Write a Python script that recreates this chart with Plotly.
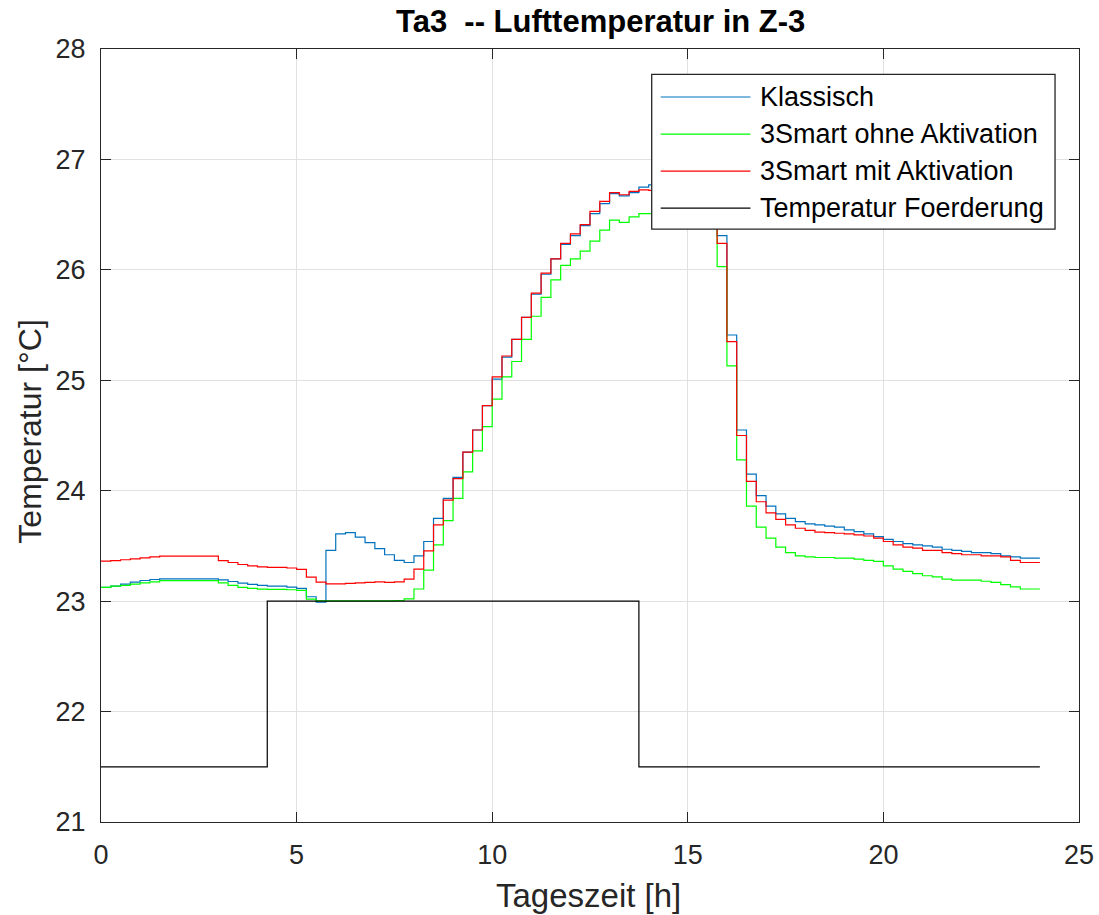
import plotly.graph_objects as go

# ---------------- data (15-min steps, 0..24 h) ----------------
step_h = 0.25

klassisch = [
    23.124, 23.136, 23.154, 23.172, 23.187, 23.196, 23.202, 23.202, 23.202, 23.202,
    23.202, 23.202, 23.193, 23.178, 23.163, 23.151, 23.142, 23.136, 23.136, 23.127,
    23.115, 23.04, 22.99, 23.46, 23.61, 23.62, 23.58, 23.53, 23.475, 23.42,
    23.37, 23.35, 23.41, 23.54, 23.75, 23.93, 24.12, 24.35, 24.55, 24.77,
    25.01, 25.21, 25.37, 25.57, 25.78, 25.96, 26.10, 26.23, 26.31, 26.40,
    26.51, 26.60, 26.69, 26.67, 26.70, 26.75, 26.77, 26.80, 26.82, 26.84,
    26.85, 26.85, 26.84, 26.31, 25.41, 24.55, 24.15, 23.955, 23.86, 23.79,
    23.75, 23.72, 23.70, 23.69, 23.68, 23.67, 23.645, 23.63, 23.61, 23.585,
    23.56, 23.54, 23.52, 23.51, 23.50, 23.49, 23.47, 23.46, 23.45, 23.44,
    23.44, 23.43, 23.41, 23.40, 23.39, 23.39,
]

ohne_aktivation = [
    23.124, 23.136, 23.142, 23.154, 23.166, 23.175, 23.186, 23.186, 23.186, 23.186,
    23.186, 23.186, 23.166, 23.142, 23.124, 23.115, 23.109, 23.106, 23.106, 23.103,
    23.097, 23.018, 23.003, 23.003, 23.003, 23.003, 23.003, 23.003, 23.003, 23.003,
    23.006, 23.02, 23.11, 23.28, 23.51, 23.73, 23.93, 24.17, 24.36, 24.58,
    24.83, 25.03, 25.17, 25.37, 25.58, 25.75, 25.91, 26.04, 26.10, 26.17,
    26.26, 26.36, 26.45, 26.43, 26.48, 26.51, 26.51, 26.53, 26.55, 26.56,
    26.57, 26.57, 26.56, 26.03, 25.13, 24.28, 23.86, 23.67, 23.57, 23.49,
    23.44, 23.41, 23.40, 23.395, 23.395, 23.39, 23.39, 23.38, 23.37, 23.36,
    23.32, 23.29, 23.27, 23.25, 23.23, 23.22, 23.20, 23.19, 23.19, 23.19,
    23.18, 23.17, 23.15, 23.13, 23.11, 23.11,
]

mit_aktivation = [
    23.362, 23.367, 23.375, 23.383, 23.392, 23.40, 23.407, 23.407, 23.407, 23.407,
    23.407, 23.407, 23.367, 23.35, 23.332, 23.32, 23.31, 23.305, 23.305, 23.30,
    23.287, 23.217, 23.172, 23.157, 23.157, 23.16, 23.165, 23.17, 23.175, 23.17,
    23.175, 23.20, 23.29, 23.455, 23.69, 23.915, 24.11, 24.35, 24.55, 24.77,
    25.03, 25.22, 25.37, 25.57, 25.79, 25.97, 26.10, 26.24, 26.325, 26.41,
    26.53, 26.62, 26.70, 26.68, 26.71, 26.725, 26.72, 26.74, 26.76, 26.77,
    26.78, 26.78, 26.77, 26.24, 25.35, 24.50, 24.085, 23.90, 23.80, 23.74,
    23.69, 23.66, 23.64, 23.625, 23.62, 23.615, 23.61, 23.60, 23.59, 23.57,
    23.54, 23.51, 23.49, 23.48, 23.46, 23.46, 23.44, 23.43, 23.42, 23.42,
    23.41, 23.41, 23.40, 23.37, 23.35, 23.35,
]

# set-point (Temperatur Foerderung): change times [h] and levels
soll_t = [0, 4.25, 13.75, 24]
soll_v = [21.5, 23.0, 21.5, 21.5]

series_names = ["Klassisch", "3Smart ohne Aktivation", "3Smart mit Aktivation", "Temperatur Foerderung"]
series_colors = ["#0072BD", "#00FF00", "#FF0000", "#000000"]

x_ticks = [0, 5, 10, 15, 20, 25]
y_ticks = [21, 22, 23, 24, 25, 26, 27, 28]

# ---------------- figure ----------------
def stairs(vals):
    t = [i * step_h for i in range(len(vals) + 1)]
    return t, list(vals) + [vals[-1]]

fig = go.Figure()
for name, vals, col in zip(series_names[:3], [klassisch, ohne_aktivation, mit_aktivation], series_colors[:3]):
    t, v = stairs(vals)
    fig.add_trace(go.Scatter(x=t, y=v, mode="lines", name=name,
                             line=dict(color=col, width=1.2, shape="hv")))
fig.add_trace(go.Scatter(x=soll_t, y=soll_v, mode="lines", name=series_names[3],
                         line=dict(color=series_colors[3], width=1.2, shape="hv")))

FONT = "Liberation Sans, Arial, Helvetica, sans-serif"
AX = "#262626"
axis_common = dict(
    showline=True, linecolor=AX, linewidth=1.3, mirror="ticks",
    ticks="inside", ticklen=10, tickwidth=1.3, tickcolor=AX,
    showgrid=True, gridcolor="#e1e1e1", gridwidth=1, zeroline=False,
    tickfont=dict(family=FONT, size=27, color=AX), automargin=False,
)
fig.update_xaxes(range=[0, 25], tickvals=x_ticks, ticklabelstandoff=8, **axis_common)
fig.update_yaxes(range=[21, 28], tickvals=y_ticks, ticklabelstandoff=9, **axis_common)

# ---- custom MATLAB-style legend box ----
L_x0, L_x1, L_y0, L_y1 = 0.5631, 0.9755, 0.7671, 0.9673
row_top = 0.9379
row_gap = 0.0479
shapes = [dict(type="rect", xref="paper", yref="paper", x0=L_x0, x1=L_x1, y0=L_y0, y1=L_y1,
               line=dict(color=AX, width=1.3), fillcolor="white", layer="above")]
annotations = []
for i, (name, col) in enumerate(zip(series_names, series_colors)):
    yy = row_top - i * row_gap
    shapes.append(dict(type="line", xref="paper", yref="paper", x0=0.5723, x1=0.6641,
                       y0=yy, y1=yy, line=dict(color=col, width=1.2), layer="above"))
    annotations.append(dict(xref="paper", yref="paper", x=0.6718, y=yy, xanchor="left",
                            yanchor="middle", text=name, showarrow=False,
                            font=dict(family=FONT, size=27, color="#000000")))

# title and axis labels
annotations.append(dict(xref="paper", yref="paper", x=0.5103, y=1.035, xanchor="center", yanchor="middle",
                        text="<b>Ta3  -- Lufttemperatur in Z-3</b>", showarrow=False,
                        font=dict(family=FONT, size=31, color="#000000")))
annotations.append(dict(xref="paper", yref="paper", x=0.4985, y=-0.0957, xanchor="center", yanchor="middle",
                        text="Tageszeit [h]", showarrow=False,
                        font=dict(family=FONT, size=33, color=AX)))
annotations.append(dict(xref="paper", yref="paper", x=-0.0726, y=0.505, xanchor="center", yanchor="middle",
                        text="Temperatur [°C]", textangle=-90, showarrow=False,
                        font=dict(family=FONT, size=32, color=AX)))

fig.update_layout(
    width=1099, height=915,
    margin=dict(l=101, r=20, t=49, b=93),
    paper_bgcolor="white", plot_bgcolor="white",
    showlegend=False,
    shapes=shapes, annotations=annotations,
    font=dict(family=FONT, color=AX),
)

fig.write_html("out.html")
